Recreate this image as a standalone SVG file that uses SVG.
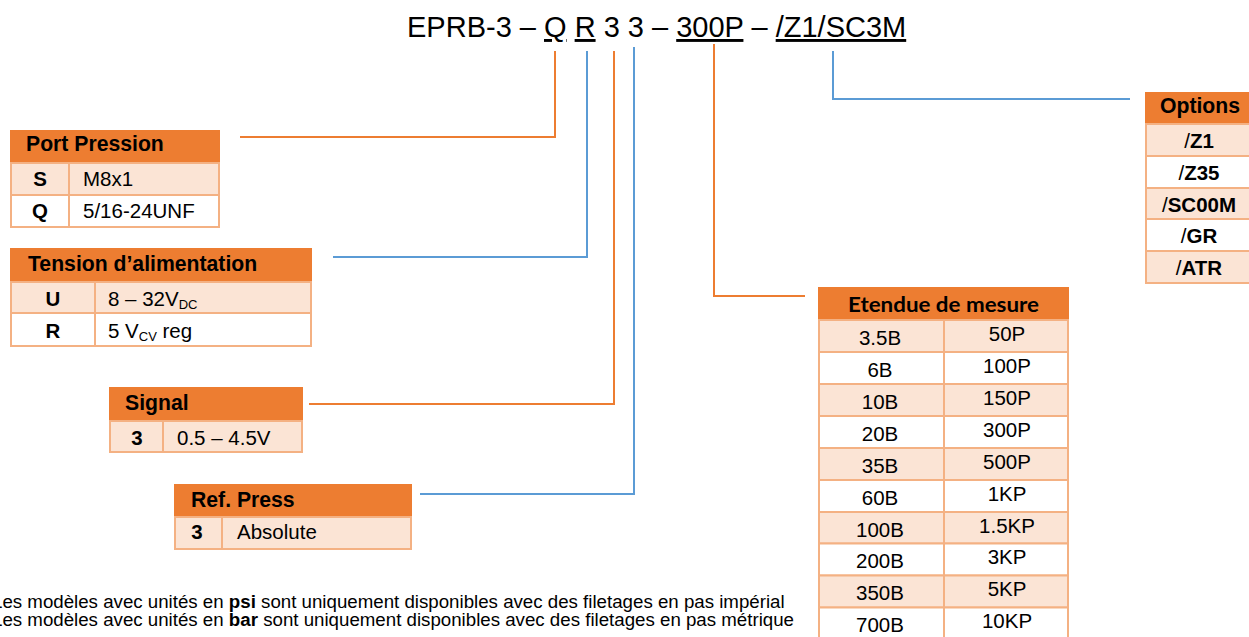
<svg xmlns="http://www.w3.org/2000/svg" width="1249" height="637" viewBox="0 0 1249 637">
<style>
.t{font-family:"Liberation Sans",Arial,sans-serif;font-size:20.5px;fill:#000}
.b{font-weight:bold}
.h{font-size:21.2px}
.c{text-anchor:middle}
.hd{fill:#ED7D31}
.p{fill:#FBE4D5;stroke:#F4B183;stroke-width:2}
.w{fill:#FFFFFF;stroke:#F4B183;stroke-width:2}
.dv{stroke:#F4B183;stroke-width:2}
.lo{fill:none;stroke:#ED7D31;stroke-width:2}
.lb{fill:none;stroke:#5B9BD5;stroke-width:2}
.title{font-family:"Liberation Sans",Arial,sans-serif;font-size:29px;fill:#000}
.note{font-family:"Liberation Sans",Arial,sans-serif;font-size:18.7px;fill:#000}
.sub{font-size:13px}
</style>
<rect width="1249" height="637" fill="#FFFFFF"/>
<g id="title">
<text class="title" x="407" y="37">EPRB-3 – <tspan text-decoration="underline">Q</tspan> <tspan text-decoration="underline">R</tspan> 3 3 – <tspan text-decoration="underline">300P</tspan> – <tspan text-decoration="underline">/Z1/SC3M</tspan></text>
</g>
<g id="connectors">
<polyline class="lo" points="555,51 555,137 240,137"/>
<polyline class="lb" points="587,51 587,257 333,257"/>
<polyline class="lo" points="614,51 614,404 309,404"/>
<polyline class="lb" points="634,47 634,494 420,494"/>
<polyline class="lo" points="714,44 714,296 805,296"/>
<polyline class="lb" points="833,51 833,99 1130,99"/>
</g>
<g id="port-pression">
<rect class="hd" x="10" y="130" width="210" height="33"/>
<rect class="p" x="11" y="163" width="208" height="32"/>
<rect class="w" x="11" y="195" width="208" height="32"/>
<line class="dv" x1="69" y1="163" x2="69" y2="227"/>
<text class="t b h" x="26" y="151">Port Pression</text>
<text class="t b c" x="40" y="186">S</text>
<text class="t" x="83" y="186">M8x1</text>
<text class="t b c" x="40" y="218">Q</text>
<text class="t" x="83" y="218">5/16-24UNF</text>
</g>
<g id="tension">
<rect class="hd" x="10" y="248" width="302" height="34"/>
<rect class="p" x="11" y="282" width="300" height="31"/>
<rect class="w" x="11" y="313" width="300" height="33"/>
<line class="dv" x1="95" y1="282" x2="95" y2="346"/>
<text class="t b h" x="28" y="271">Tension d’alimentation</text>
<text class="t b c" x="53" y="306">U</text>
<text class="t" x="108" y="306">8 – 32V<tspan class="sub" dy="3">DC</tspan></text>
<text class="t b c" x="53" y="338">R</text>
<text class="t" x="108" y="338">5 V<tspan class="sub" dy="3">CV</tspan><tspan dy="-3"> reg</tspan></text>
</g>
<g id="signal">
<rect class="hd" x="109" y="387" width="194" height="34"/>
<rect class="p" x="110" y="421" width="192" height="31"/>
<line class="dv" x1="163" y1="421" x2="163" y2="452"/>
<text class="t b h" x="125" y="410">Signal</text>
<text class="t b c" x="137" y="445">3</text>
<text class="t" x="177" y="445">0.5 – 4.5V</text>
</g>
<g id="ref-press">
<rect class="hd" x="174" y="484" width="238" height="33"/>
<rect class="p" x="175" y="517" width="236" height="32"/>
<line class="dv" x1="222" y1="517" x2="222" y2="549"/>
<text class="t b h" x="191" y="507">Ref. Press</text>
<text class="t b c" x="197" y="539">3</text>
<text class="t" x="237" y="539">Absolute</text>
</g>
<g id="options">
<rect class="hd" x="1145" y="92" width="110" height="32"/>
<rect class="p" x="1146" y="124" width="110" height="32"/>
<rect class="w" x="1146" y="156" width="110" height="32"/>
<rect class="p" x="1146" y="188" width="110" height="31"/>
<rect class="w" x="1146" y="219" width="110" height="32"/>
<rect class="p" x="1146" y="251" width="110" height="32"/>
<text class="t b h c" x="1200" y="113">Options</text>
<text class="t c" x="1199" y="148">/<tspan class="b">Z1</tspan></text>
<text class="t c" x="1199" y="180">/<tspan class="b">Z35</tspan></text>
<text class="t c" x="1199" y="212">/<tspan class="b">SC00M</tspan></text>
<text class="t c" x="1199" y="243">/<tspan class="b">GR</tspan></text>
<text class="t c" x="1199" y="275">/<tspan class="b">ATR</tspan></text>
</g>
<g id="etendue">
<rect class="hd" x="818" y="287" width="251" height="33"/>
<rect class="p" x="819" y="320" width="249" height="32"/>
<rect class="w" x="819" y="352" width="249" height="32"/>
<rect class="p" x="819" y="384" width="249" height="32"/>
<rect class="w" x="819" y="416" width="249" height="32"/>
<rect class="p" x="819" y="448" width="249" height="32"/>
<rect class="w" x="819" y="480" width="249" height="32"/>
<rect class="p" x="819" y="512" width="249" height="31.5"/>
<rect class="w" x="819" y="543.5" width="249" height="32"/>
<rect class="p" x="819" y="575.5" width="249" height="32"/>
<rect class="w" x="819" y="607.5" width="249" height="32"/>
<line class="dv" x1="944" y1="320" x2="944" y2="640"/>
<text x="943.5" y="312" font-family="Lato,'Open Sans',sans-serif" font-weight="bold" font-size="21" text-anchor="middle" textLength="191" lengthAdjust="spacingAndGlyphs">Etendue de mesure</text>
<text class="t c" x="880" y="345">3.5B</text><text class="t c" x="1007" y="341">50P</text>
<text class="t c" x="880" y="377">6B</text><text class="t c" x="1007" y="373">100P</text>
<text class="t c" x="880" y="409">10B</text><text class="t c" x="1007" y="405">150P</text>
<text class="t c" x="880" y="441">20B</text><text class="t c" x="1007" y="437">300P</text>
<text class="t c" x="880" y="473">35B</text><text class="t c" x="1007" y="469">500P</text>
<text class="t c" x="880" y="505">60B</text><text class="t c" x="1007" y="501">1KP</text>
<text class="t c" x="880" y="537">100B</text><text class="t c" x="1007" y="533">1.5KP</text>
<text class="t c" x="880" y="568">200B</text><text class="t c" x="1007" y="564">3KP</text>
<text class="t c" x="880" y="600">350B</text><text class="t c" x="1007" y="596">5KP</text>
<text class="t c" x="880" y="632">700B</text><text class="t c" x="1007" y="628">10KP</text>
</g>
<g id="notes">
<text class="note" x="-8" y="608">Les modèles avec unités en <tspan font-weight="bold">psi</tspan> sont uniquement disponibles avec des filetages en pas impérial</text>
<text class="note" x="-8" y="626">Les modèles avec unités en <tspan font-weight="bold">bar</tspan> sont uniquement disponibles avec des filetages en pas métrique</text>
</g>
</svg>
